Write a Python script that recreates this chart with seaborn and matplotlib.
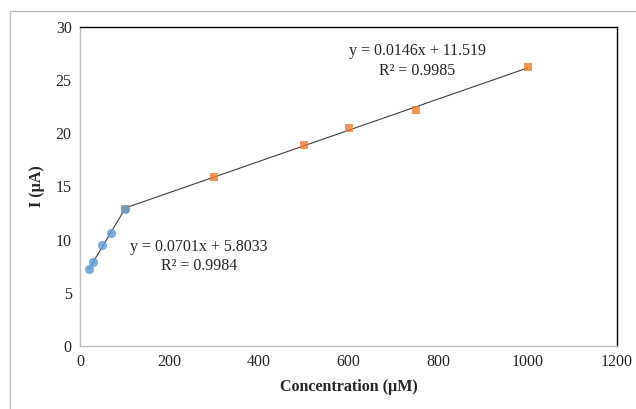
import numpy as np
import matplotlib
matplotlib.use("Agg")
import matplotlib.pyplot as plt
from matplotlib.patches import Rectangle
import seaborn as sns

# datos
conc_low = [20, 30, 50, 70, 100]
curr_low = [7.2, 7.9, 9.5, 10.6, 12.9]
conc_high = [100, 300, 500, 600, 750, 1000]
curr_high = [12.9, 15.9, 18.9, 20.5, 22.2, 26.2]

x_ticks = [0, 200, 400, 600, 800, 1000, 1200]
y_ticks = [0, 5, 10, 15, 20, 25, 30]

eq_low = "y = 0.0701x + 5.8033\nR² = 0.9984"
eq_high = "y = 0.0146x + 11.519\nR² = 0.9985"

sns.set_style("white")
plt.rcParams['font.family'] = ['Liberation Serif', 'DejaVu Serif']

fig = plt.figure(figsize=(6.36, 4.09), dpi=100)
ax = fig.add_axes([80 / 636, 1 - 346 / 409, 537 / 636, 319 / 409])

# borde del area del grafico
fig.patches.append(Rectangle((10 / 636, -0.05), 1.0, 1 - 11 / 409 + 0.05,
                             transform=fig.transFigure, fill=False,
                             edgecolor="#bfbfbf", linewidth=1.0))

# lineas de tendencia (ajuste lineal)
sns.regplot(x=conc_high, y=curr_high, ax=ax, ci=None, marker="s",
            scatter_kws=dict(s=32, color="#ED7D31", zorder=3, linewidths=0),
            line_kws=dict(color="#404040", linewidth=0.8, zorder=2))
sns.regplot(x=conc_low, y=curr_low, ax=ax, ci=None, marker="o",
            scatter_kws=dict(s=44, color="#5B9BD5", zorder=4, linewidths=0),
            line_kws=dict(color="#404040", linewidth=0.8, zorder=2))

ax.set_xlim(0, 1200)
ax.set_ylim(0, 30)
ax.set_xticks(x_ticks)
ax.set_yticks(y_ticks)
ax.tick_params(axis="both", length=0, labelsize=11.5, pad=6)

for side in ["top", "right"]:
    ax.spines[side].set_color("black")
    ax.spines[side].set_linewidth(1.0)
for side in ["left", "bottom"]:
    ax.spines[side].set_color("#bfbfbf")
    ax.spines[side].set_linewidth(1.0)

ax.set_xlabel("Concentration (µM)", fontsize=11.5, fontweight="bold", labelpad=6)
ax.set_ylabel("I (µA)", fontsize=11.5, fontweight="bold", labelpad=8)

ax.text(266, 8.4, eq_low, fontsize=11.5, ha="center", va="center",
        linespacing=1.3, color="#262626")
ax.text(754, 26.8, eq_high, fontsize=11.5, ha="center", va="center",
        linespacing=1.3, color="#262626")

fig.savefig("out.png", dpi=100)
